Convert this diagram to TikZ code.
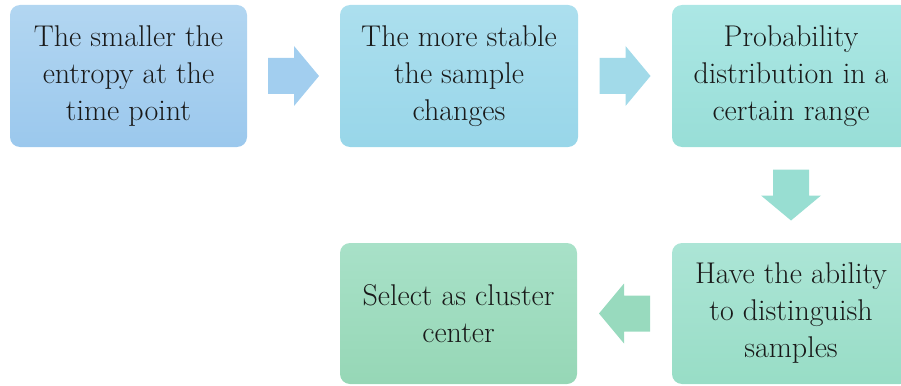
\documentclass[tikz,border=0pt]{standalone}
\usetikzlibrary{calc}

% colours of the five steps and the arrows between them
\definecolor{boxAtop}{RGB}{178,214,241}
\definecolor{boxAbot}{RGB}{155,200,237}
\definecolor{boxBtop}{RGB}{172,223,238}
\definecolor{boxBbot}{RGB}{152,214,233}
\definecolor{boxCtop}{RGB}{172,231,229}
\definecolor{boxCbot}{RGB}{152,222,215}
\definecolor{boxDtop}{RGB}{172,229,214}
\definecolor{boxDbot}{RGB}{152,221,198}
\definecolor{boxEtop}{RGB}{168,225,200}
\definecolor{boxEbot}{RGB}{150,215,182}
\definecolor{arrA}{RGB}{162,206,239}
\definecolor{arrB}{RGB}{162,218,233}
\definecolor{arrC}{RGB}{152,222,210}
\definecolor{arrD}{RGB}{152,218,190}
\definecolor{ink}{RGB}{25,25,25}

% wide block arrow centred at #1, turned by #2 degrees, filled with #3
\newcommand\flowarrow[3]{%
  \fill[#3, shift={(#1)}, rotate=#2]
    (-25.5,-18) -- (0.5,-18) -- (0.5,-30) -- (25.5,0)
    -- (0.5,30) -- (0.5,18) -- (-25.5,18) -- cycle;}

\begin{document}
\begin{tikzpicture}[x=1pt, y=1pt,
  stepbox/.style={rounded corners=10pt, align=center, text=ink,
    inner sep=0pt, minimum height=142pt,
    font=\fontsize{30}{37}\selectfont}]
\useasboundingbox (0,0) rectangle (901,-385);

% first row
\node[stepbox, minimum width=237pt, top color=boxAtop, bottom color=boxAbot]
  (b1) at (128.5,-76) {The smaller the\\entropy at the\\time point};
\node[stepbox, minimum width=238pt, top color=boxBtop, bottom color=boxBbot]
  (b2) at (459,-76) {The more stable\\the sample\\changes};
\node[stepbox, minimum width=238pt, top color=boxCtop, bottom color=boxCbot]
  (b3) at (791,-76) {Probability\\distribution in a\\certain range};

% second row
\node[stepbox, minimum width=238pt, minimum height=141pt,
  top color=boxDtop, bottom color=boxDbot]
  (b4) at (791,-313.5) {Have the ability\\to distinguish\\samples};
\node[stepbox, minimum width=237pt, minimum height=141pt,
  top color=boxEtop, bottom color=boxEbot]
  (b5) at (458.5,-313.5) {Select as cluster\\center};

% arrows between the steps
\coordinate (a1) at ($(b1.east)!0.5!(b2.west)$);
\coordinate (a2) at ($(b2.east)!0.5!(b3.west)$);
\coordinate (a3) at ($(b3.south)!0.5!(b4.north)$);
\coordinate (a4) at ($(b4.west)!0.5!(b5.east)$);
\flowarrow{a1}{0}{arrA}
\flowarrow{a2}{0}{arrB}
\flowarrow{a3}{-90}{arrC}
\flowarrow{a4}{180}{arrD}
\end{tikzpicture}
\end{document}
